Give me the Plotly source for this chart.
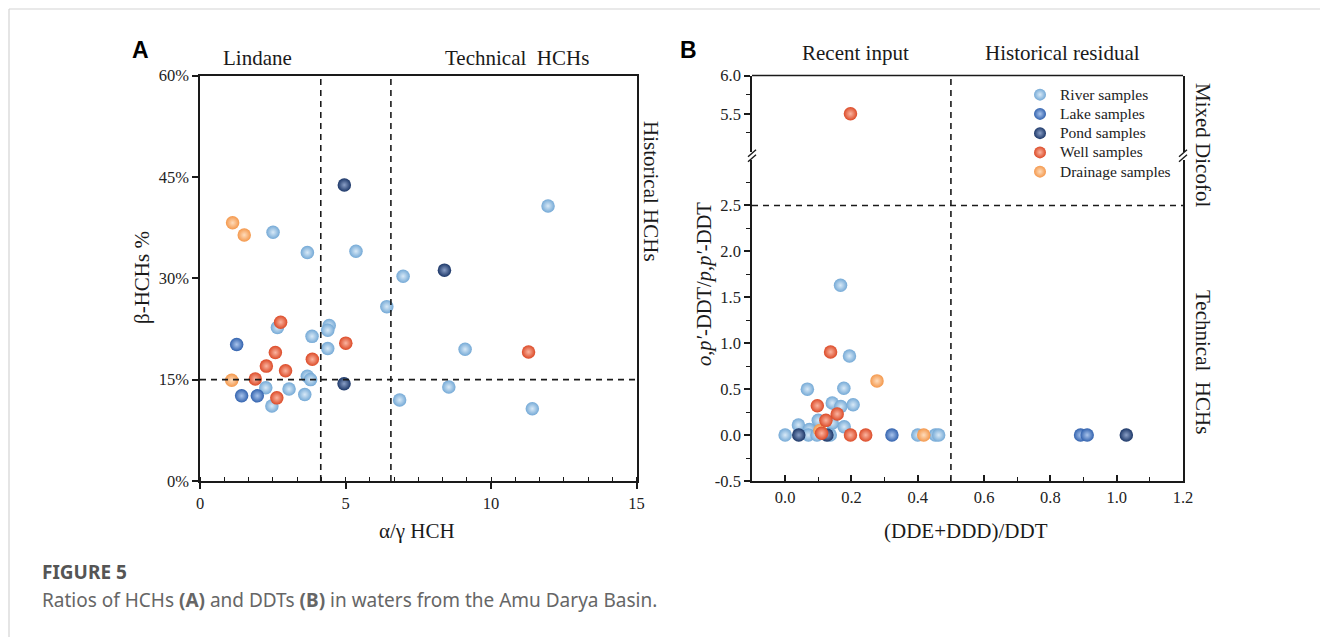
import plotly.graph_objects as go

W, H = 1320, 637

# ---------------- data: panel A (alpha/gamma HCH vs beta-HCHs %) ----------------
a_river_x = [2.51, 3.69, 5.36, 6.42, 2.66, 4.44, 4.39, 3.85, 4.39, 3.69, 3.80, 2.26, 3.06, 3.60, 2.47, 11.96, 6.98, 9.11, 8.55, 6.86, 11.42]
a_river_y = [36.8, 33.8, 34.0, 25.8, 22.7, 23.0, 22.3, 21.4, 19.6, 15.5, 15.0, 13.8, 13.6, 12.8, 11.1, 40.7, 30.3, 19.5, 13.9, 12.0, 10.7]
a_lake_x = [1.26, 1.43, 1.97]
a_lake_y = [20.2, 12.6, 12.6]
a_pond_x = [4.96, 8.40, 4.95]
a_pond_y = [43.8, 31.2, 14.4]
a_well_x = [2.77, 5.01, 2.59, 3.86, 2.28, 2.94, 1.90, 2.64, 11.29]
a_well_y = [23.5, 20.4, 19.0, 18.0, 17.0, 16.3, 15.1, 12.3, 19.1]
a_drain_x = [1.12, 1.52, 1.09]
a_drain_y = [38.2, 36.4, 14.9]
a_vlines = [4.15, 6.56]
a_hline = 15
a_yticks = [0, 15, 30, 45, 60]
a_xticks = [0, 5, 10, 15]

# ---------------- data: panel B ((DDE+DDD)/DDT vs o,p'-DDT/p,p'-DDT) ----------------
b_river_x = [0.167, 0.194, 0.067, 0.177, 0.142, 0.168, 0.205, 0.100, 0.142, 0.040, 0.073, 0.178, 0.000, 0.070, 0.096, 0.136, 0.400, 0.453, 0.463]
b_river_y = [1.63, 0.86, 0.50, 0.51, 0.35, 0.31, 0.33, 0.16, 0.13, 0.11, 0.06, 0.09, 0.0, 0.0, 0.0, 0.0, 0.0, 0.0, 0.0]
b_lake_x = [0.322, 0.891, 0.911]
b_lake_y = [0.0, 0.0, 0.0]
b_pond_x = [0.041, 0.126, 1.029]
b_pond_y = [0.0, 0.0, 0.0]
b_well_x = [0.137, 0.097, 0.157, 0.123, 0.110, 0.197, 0.243, 0.197]
b_well_y = [0.905, 0.32, 0.23, 0.16, 0.02, 0.0, 0.0, 5.5]
b_drain_x = [0.277, 0.418, 0.105]
b_drain_y = [0.59, 0.0, 0.05]
b_vline = 0.5
b_hline = 2.5
b_lo_yticks = [-0.5, 0, 0.5, 1.0, 1.5, 2.0, 2.5]
b_lo_yminor = [-0.25, 0.25, 0.75, 1.25, 1.75, 2.25, 2.75]
b_hi_yticks = [5.5, 6.0]
b_hi_yminor = [5.25, 5.75]

series_names = ["River samples", "Lake samples", "Pond samples", "Well samples", "Drainage samples"]
legend_rank = [1, 2, 3, 4, 5]
base_colors = ["#74a9d6", "#3262ae", "#1c3768", "#dc4a27", "#f4984c"]
light_colors = ["#d8e9f7", "#a9c4ec", "#8a9fc6", "#fab5a1", "#fedcbc"]

A_data = [(a_river_x, a_river_y), (a_lake_x, a_lake_y), (a_pond_x, a_pond_y), (a_well_x, a_well_y), (a_drain_x, a_drain_y)]
B_data = [(b_river_x, b_river_y), (b_lake_x, b_lake_y), (b_pond_x, b_pond_y), (b_well_x, b_well_y), (b_drain_x, b_drain_y)]

draw_order = [0, 1, 2, 4, 3]  # river, lake, pond, drainage, well (well on top)

SERIF = "Liberation Serif, Times New Roman, serif"
SANS = "Liberation Sans, Arial, sans-serif"
CAP = "Noto Sans, Open Sans, sans-serif"

def px(x):
    return x / W

def py(y):
    return 1 - y / H

def marker(i):
    return dict(size=13.5, color=base_colors[i], line=dict(width=0),
                gradient=dict(type="radial", color=light_colors[i]))

fig = go.Figure()

B_SPLIT = 4.0
for i in draw_order:
    xs, ys = A_data[i]
    fig.add_trace(go.Scatter(x=xs, y=ys, mode="markers", marker=marker(i),
                             xaxis="x", yaxis="y", showlegend=False, name=series_names[i]))
for i in draw_order:
    xs, ys = B_data[i]
    lo = [(x, y) for x, y in zip(xs, ys) if y < B_SPLIT]
    hi = [(x, y) for x, y in zip(xs, ys) if y >= B_SPLIT]
    label = "<span style='font-size:15.5px'>" + series_names[i] + "</span>"
    fig.add_trace(go.Scatter(x=[p[0] for p in lo], y=[p[1] for p in lo], mode="markers",
                             marker=marker(i), xaxis="x2", yaxis="y2", name=label,
                             legendgroup=series_names[i], legendrank=legend_rank[i], showlegend=True))
    if hi:
        fig.add_trace(go.Scatter(x=[p[0] for p in hi], y=[p[1] for p in hi], mode="markers",
                                 marker=marker(i), xaxis="x2", yaxis="y3", name=label,
                                 legendgroup=series_names[i], showlegend=False))

AXC = "#1a1a1a"
tickfont = dict(family=SERIF, size=16.5, color="#222")

# pixel geometry
A_L, A_R = 200, 636.5
B_L, B_R = 752, 1183
TOP, BOT = 75.5, 481
B_LO_TOP = 159.5
B_HI_BOT = 152

fig.update_layout(
    width=W, height=H, template="none",
    margin=dict(l=0, r=0, t=0, b=0),
    paper_bgcolor="white", plot_bgcolor="rgba(0,0,0,0)",
    xaxis=dict(domain=[px(A_L), px(A_R)], range=[0, 15], anchor="y",
               showline=True, linecolor=AXC, linewidth=1.5, mirror=True,
               showgrid=False, zeroline=False, automargin=False,
               tickmode="array", tickvals=a_xticks, ticks="outside", ticklen=6, tickwidth=1.5,
               tickcolor=AXC, tickfont=tickfont,
               minor=dict(dtick=5/6, tick0=0, ticks="inside", ticklen=4, tickwidth=1.2, tickcolor=AXC, showgrid=False)),
    yaxis=dict(domain=[py(BOT), py(TOP)], range=[0, 60], anchor="x",
               showline=True, linecolor=AXC, linewidth=1.5, mirror=True,
               showgrid=False, zeroline=False, automargin=False,
               tickmode="array", tickvals=a_yticks, ticktext=[f"{v}%" for v in a_yticks],
               ticks="outside", ticklen=6, tickwidth=1.5, tickcolor=AXC, tickfont=tickfont),
    xaxis2=dict(domain=[px(B_L), px(B_R)], range=[-0.1, 1.2], anchor="y2",
                showline=True, linecolor=AXC, linewidth=1.5, mirror=False,
                showgrid=False, zeroline=False, automargin=False,
                tickmode="linear", tick0=0, dtick=0.2, tickformat=".1f",
                ticks="inside", ticklen=6, tickwidth=1.5, tickcolor=AXC, tickfont=tickfont,
                minor=dict(dtick=0.1, tick0=0, ticks="inside", ticklen=4, tickwidth=1.2, tickcolor=AXC, showgrid=False)),
    yaxis2=dict(domain=[py(BOT), py(B_LO_TOP)], range=[-0.5, 3.0], anchor="x2",
                showline=True, linecolor=AXC, linewidth=1.5, mirror=True,
                showgrid=False, zeroline=False, automargin=False,
                tickmode="array", tickvals=b_lo_yticks, ticktext=[f"{v:.1f}" for v in b_lo_yticks],
                ticks="outside", ticklen=6, tickwidth=1.5, tickcolor=AXC, tickfont=tickfont,
                minor=dict(tickmode="array", tickvals=b_lo_yminor,
                           ticks="outside", ticklen=4, tickwidth=1.2, tickcolor=AXC, showgrid=False)),
    yaxis3=dict(domain=[py(B_HI_BOT), py(TOP)], range=[5.0, 6.0], anchor="x2",
                showline=True, linecolor=AXC, linewidth=1.5, mirror=True,
                showgrid=False, zeroline=False, automargin=False,
                tickmode="array", tickvals=b_hi_yticks, ticktext=[f"{v:.1f}" for v in b_hi_yticks],
                ticks="outside", ticklen=6, tickwidth=1.5, tickcolor=AXC, tickfont=tickfont,
                minor=dict(tickmode="array", tickvals=b_hi_yminor,
                           ticks="outside", ticklen=4, tickwidth=1.2, tickcolor=AXC, showgrid=False)),
    legend=dict(x=px(1020), y=py(80), xanchor="left", yanchor="top",
                bgcolor="rgba(0,0,0,0)", borderwidth=0, tracegroupgap=0,
                font=dict(family=SERIF, size=12.5, color="#222"), itemsizing="constant"),
    showlegend=True,
)

dash = "6px,5px"
shapes = []
# panel A dashed lines
for v in a_vlines:
    shapes.append(dict(type="line", xref="x", yref="y", x0=v, x1=v, y0=0, y1=60,
                       line=dict(color=AXC, width=1.6, dash=dash)))
shapes.append(dict(type="line", xref="x", yref="y", x0=0, x1=15, y0=a_hline, y1=a_hline,
                   line=dict(color=AXC, width=1.6, dash=dash)))
# panel B dashed lines
shapes.append(dict(type="line", xref="x2", yref="paper", x0=b_vline, x1=b_vline, y0=py(BOT), y1=py(TOP),
                   line=dict(color=AXC, width=1.6, dash=dash)))
shapes.append(dict(type="line", xref="paper", yref="y2", x0=px(B_L), x1=px(B_R), y0=b_hline, y1=b_hline,
                   line=dict(color=AXC, width=1.6, dash=dash)))
# panel B top border
shapes.append(dict(type="line", xref="paper", yref="paper", x0=px(B_L), x1=px(B_R), y0=py(TOP), y1=py(TOP),
                   line=dict(color=AXC, width=1.5)))
# axis break marks
for xb in (B_L, B_R):
    for dy in (-2.5, 2.5):
        yc = (B_HI_BOT + B_LO_TOP) / 2 + dy
        shapes.append(dict(type="line", xref="paper", yref="paper",
                           x0=px(xb - 4), x1=px(xb + 4), y0=py(yc + 3.5), y1=py(yc - 3.5),
                           line=dict(color=AXC, width=1.4)))
# page border lines
shapes.append(dict(type="line", xref="paper", yref="paper", x0=px(9), x1=1, y0=py(9), y1=py(9),
                   line=dict(color="#d4d4d4", width=1.2)))
shapes.append(dict(type="line", xref="paper", yref="paper", x0=px(9), x1=px(9), y0=0, y1=py(9),
                   line=dict(color="#d4d4d4", width=1.2)))
fig.update_layout(shapes=shapes)

ann = []
def text(x, y, s, size=21, family=SERIF, angle=0, color="#1a1a1a", xanchor="center"):
    ann.append(dict(x=px(x), y=py(y), xref="paper", yref="paper", text=s, showarrow=False,
                    font=dict(family=family, size=size, color=color), textangle=angle,
                    xanchor=xanchor, yanchor="middle"))

text(140, 50, "<b>A</b>", size=23, family=SANS, color="#000")
text(688, 50, "<b>B</b>", size=23, family=SANS, color="#000")
text(257, 58, "Lindane")
text(517, 58, "Technical  HCHs")
text(651, 191, "Historical HCHs", angle=90)
text(142, 278, "β-HCHs %", angle=-90)
text(417, 531, "α/γ HCH")
text(855, 53, "Recent input")
text(1062, 53, "Historical residual")
text(1203, 145, "Mixed Dicofol", angle=90)
text(1203, 362, "Technical  HCHs", angle=90)
text(704, 284, "<i>o,p′</i>-DDT/<i>p,p′</i>-DDT", angle=-90, size=20.5)
text(966, 531, "(DDE+DDD)/DDT")
text(40, 572, "<b>FIGURE 5</b>", size=19, family=CAP, color="#555", xanchor="left")
text(40, 600, "Ratios of HCHs <b>(A)</b> and DDTs <b>(B)</b> in waters from the Amu Darya Basin.",
     size=19, family=CAP, color="#666", xanchor="left")
fig.update_layout(annotations=ann)

fig.write_html("out.html", config={"displayModeBar": False},
               post_script="document.body.style.margin='0';document.body.style.overflow='hidden';")
